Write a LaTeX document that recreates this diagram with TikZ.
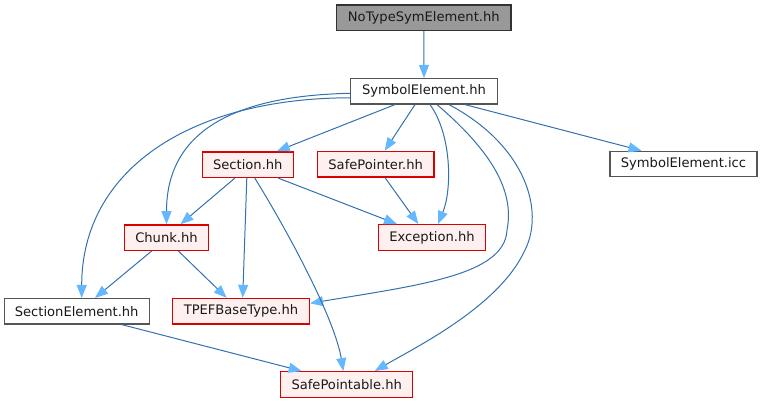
\documentclass[tikz,border=0pt]{standalone}
\usepackage{fontspec}
\setmainfont{DejaVu Sans}
\usetikzlibrary{arrows.meta,calc}
\definecolor{edgec}{HTML}{3370AE}
\definecolor{arrc}{HTML}{63B8FF}
\definecolor{redfill}{HTML}{FFF0F0}
\definecolor{redline}{HTML}{D80000}
\definecolor{greyfill}{HTML}{999999}
\definecolor{greyline}{HTML}{333333}
\definecolor{plainline}{HTML}{555555}
\begin{document}
\begin{tikzpicture}[x=1pt,y=-1pt,
  box/.style={draw, minimum height=25.5pt, inner sep=0pt, font=\fontsize{13.1}{15}\selectfont, text=black!90},
  redbox/.style={box, draw=redline, fill=redfill, line width=1.4pt},
  plainbox/.style={box, draw=plainline, fill=white, line width=1.1pt},
  greybox/.style={box, draw=greyline, fill=greyfill, line width=1.1pt},
  dep/.style={draw=edgec, line width=1pt, -{Triangle[length=13pt,width=10pt,color=arrc]}}
]
\useasboundingbox (0,0) rectangle (763,403);

\node[greybox, minimum width=174.3pt] (nts) at (423.8,17.8) {NoTypeSymElement.hh};
\node[plainbox, minimum width=146.7pt] (se) at (424,91.3) {SymbolElement.hh};
\node[redbox, minimum width=91pt] (sec) at (247.8,164.7) {Section.hh};
\node[redbox, minimum width=116.7pt] (sp) at (375.7,164.2) {SafePointer.hh};
\node[plainbox, minimum width=147pt] (icc) at (683.5,164) {SymbolElement.icc};
\node[redbox, minimum width=83.6pt] (chunk) at (166.5,237.7) {Chunk.hh};
\node[redbox, minimum width=106.7pt] (exc) at (432,237.5) {Exception.hh};
\node[plainbox, minimum width=144.7pt] (sel) at (76.7,311.3) {SectionElement.hh};
\node[redbox, minimum width=136.7pt] (tpef) at (241,311.3) {TPEFBaseType.hh};
\node[redbox, minimum width=132pt] (spa) at (346.7,384.5) {SafePointable.hh};

% edges
\draw[dep] (nts.south) -- (se.north);
\draw[dep] ($(se.south)+(-29,0)$) -- ($(sec.north)+(29,0)$);
\draw[dep] ($(se.south)+(-9,0)$) -- ($(sp.north)+(9,0)$);
\draw[dep] ($(se.south)+(41,0)$) -- ($(icc.north)+(-42,0)$);
\draw[dep] ($(se.west)+(0,2)$) .. controls (220,96) and (166.5,140) .. (chunk.north);
\draw[dep] ($(se.west)+(0,6.5)$) .. controls (190,98) and (81.7,170) .. ($(sel.north)+(5,0)$);
\draw[dep] ($(se.south)+(6,0)$) .. controls (452,135) and (452,190) .. ($(exc.north)+(6,0)$);
\draw[dep] ($(se.south)+(13,0)$) .. controls (490,150) and (515,190) .. (507,230)
   .. controls (505,275) and (420,285) .. ($(tpef.east)+(0,-8)$);
\draw[dep] ($(se.south)+(25,0)$) .. controls (525,145) and (545,210) .. (525,250)
   .. controls (500,305) and (420,345) .. ($(spa.north)+(28,0)$);

\draw[dep] ($(sec.south)+(-13,0)$) -- ($(chunk.north)+(14,0)$);
\draw[dep] ($(sec.south)+(-1,0)$) -- ($(tpef.north)+(1.7,0)$);
\draw[dep] ($(sec.south)+(7,0)$) .. controls (290,235) and (335,320) .. ($(spa.north)+(-3.4,0)$);
\draw[dep] ($(sec.south)+(30.5,0)$) -- ($(exc.north)+(-35,0)$);
\draw[dep] ($(sp.south)+(9.3,0)$) -- ($(exc.north)+(-13.7,0)$);
\draw[dep] ($(chunk.south)+(-15,0)$) -- ($(sel.north)+(18.3,0)$);
\draw[dep] ($(chunk.south)+(12,0)$) -- ($(tpef.north)+(-14.3,0)$);
\draw[dep] ($(sel.south)+(45,0)$) -- ($(spa.north)+(-45,0)$);
\end{tikzpicture}
\end{document}
